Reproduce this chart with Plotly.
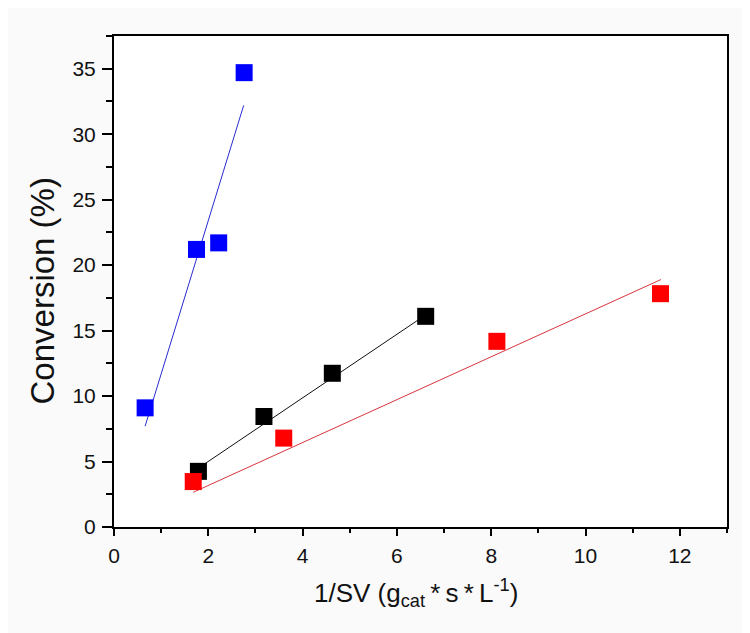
import plotly.graph_objects as go

# Data
blue_x = [0.66, 1.75, 2.22, 2.76]
blue_y = [9.1, 21.2, 21.7, 34.7]
blue_fit_x = [0.66, 2.75]
blue_fit_y = [7.7, 32.2]

black_x = [1.79, 3.18, 4.63, 6.61]
black_y = [4.25, 8.44, 11.74, 16.09]
black_fit_x = [1.79, 6.61]
black_fit_y = [4.5, 16.2]

red_x = [1.68, 3.60, 8.12, 11.59]
red_y = [3.47, 6.79, 14.18, 17.82]
red_fit_x = [1.68, 11.6]
red_fit_y = [2.65, 18.9]

x_ticks = [0, 2, 4, 6, 8, 10, 12]
y_ticks = [0, 5, 10, 15, 20, 25, 30, 35]

FONT = "Liberation Sans, Arial, sans-serif"

fig = go.Figure()

def add_series(fx, fy, px, py, line_color, marker_color):
    fig.add_trace(go.Scatter(x=fx, y=fy, mode="lines",
                             line=dict(color=line_color, width=1),
                             showlegend=False, hoverinfo="skip"))
    fig.add_trace(go.Scatter(x=px, y=py, mode="markers",
                             marker=dict(symbol="square", size=17, color=marker_color,
                                         line=dict(width=0)),
                             showlegend=False))

add_series(blue_fit_x, blue_fit_y, blue_x, blue_y, "#2a2ad0", "#0000ff")
add_series(black_fit_x, black_fit_y, black_x, black_y, "#111111", "#000000")
add_series(red_fit_x, red_fit_y, red_x, red_y, "#d8343c", "#ff0000")

fig.update_layout(
    width=750, height=633,
    margin=dict(l=106, r=31, t=28, b=114),
    paper_bgcolor="#fafafa",
    plot_bgcolor="#ffffff",
    font=dict(family=FONT, color="#111111"),
    xaxis=dict(
        range=[0, 13], tickvals=x_ticks, ticktext=[str(v) for v in x_ticks],
        showgrid=False, zeroline=False,
        showline=True, linecolor="black", linewidth=2, mirror=True,
        ticks="outside", ticklen=7, tickwidth=1.5, tickcolor="black",
        minor=dict(dtick=1, ticks="outside", ticklen=4, tickwidth=1.5, tickcolor="black", showgrid=False),
        tickfont=dict(size=21, family=FONT, color="#111111"),
        ticklabelstandoff=2,
    ),
    yaxis=dict(
        range=[0, 37.5], tickvals=y_ticks, ticktext=[str(v) for v in y_ticks],
        showgrid=False, zeroline=False,
        showline=True, linecolor="black", linewidth=2, mirror=True,
        ticks="outside", ticklen=10, tickwidth=1.5, tickcolor="black",
        minor=dict(dtick=2.5, ticks="outside", ticklen=6, tickwidth=1.5, tickcolor="black", showgrid=False),
        tickfont=dict(size=21, family=FONT, color="#111111"),
        ticklabelstandoff=2,
    ),
    annotations=[
        dict(text="1/SV (g<sub>cat</sub>\u2009*\u2009s\u2009*\u2009L<sup>-1</sup>)", xref="paper", yref="paper",
             x=0.5, y=0, xanchor="center", yanchor="middle", yshift=-66, xshift=-5,
             showarrow=False, font=dict(size=26, family=FONT, color="#111111")),
        dict(text="Conversion (%)", xref="paper", yref="paper",
             x=0, y=0.5, xanchor="center", yanchor="middle", xshift=-72, yshift=-10,
             textangle=-90, showarrow=False, font=dict(size=33, family=FONT, color="#111111")),
    ],
)

fig.write_html("out.html")
